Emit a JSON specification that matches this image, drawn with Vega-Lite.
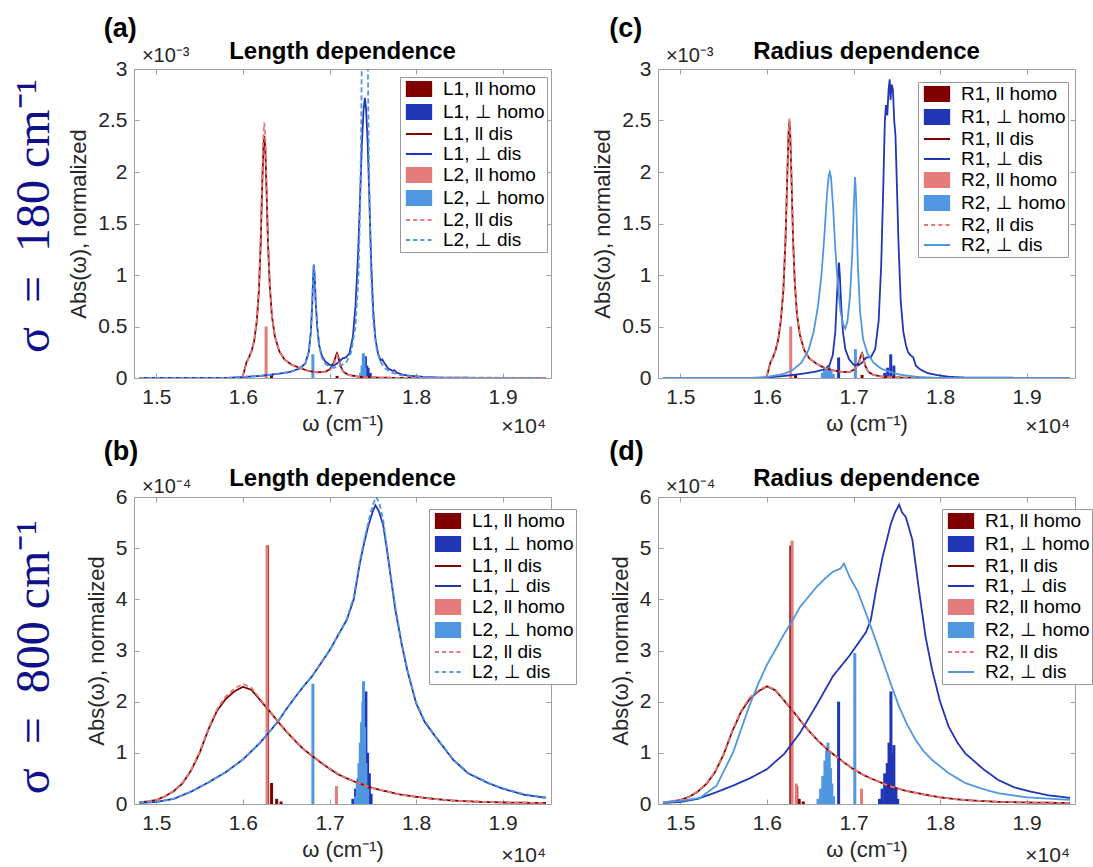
{
"$schema": "https://vega.github.io/schema/vega-lite/v6.json",
"padding": {"left": 10, "top": 14, "right": 0, "bottom": 0},
"columns": 2,
"spacing": {"row": -1, "column": 14},
"resolve": {"scale": {"x": "independent", "y": "independent", "color": "independent", "fill": "independent", "stroke": "independent", "shape": "independent", "strokeDash": "independent"}, "legend": {"color": "independent", "fill": "independent", "stroke": "independent", "shape": "independent", "strokeDash": "independent"}, "axis": {"x": "independent", "y": "independent"}},
"datasets": {
"a_homo": [
{"s":"L1, ll homo","w":16330,"v":0.04},{"s":"L1, ll homo","w":17087,"v":0.02},
{"s":"L1, ⊥ homo","w":17415,"v":0.21},{"s":"L1, ⊥ homo","w":17430,"v":0.12},{"s":"L1, ⊥ homo","w":17445,"v":0.1},{"s":"L1, ⊥ homo","w":17470,"v":0.05},
{"s":"L2, ll homo","w":16268,"v":0.5},
{"s":"L2, ⊥ homo","w":16808,"v":0.23},{"s":"L2, ⊥ homo","w":17360,"v":0.05},{"s":"L2, ⊥ homo","w":17375,"v":0.12},{"s":"L2, ⊥ homo","w":17390,"v":0.24},{"s":"L2, ⊥ homo","w":17400,"v":0.2},{"s":"L2, ⊥ homo","w":17410,"v":0.1}
],
"a_dis": [
{"s":"L1, ll dis","w":14800,"v":0},{"s":"L1, ll dis","w":15990,"v":0},{"s":"L1, ll dis","w":16010,"v":0.05},{"s":"L1, ll dis","w":16040,"v":0.15},{"s":"L1, ll dis","w":16070,"v":0.2},{"s":"L1, ll dis","w":16100,"v":0.26},{"s":"L1, ll dis","w":16130,"v":0.36},{"s":"L1, ll dis","w":16160,"v":0.55},{"s":"L1, ll dis","w":16185,"v":0.85},{"s":"L1, ll dis","w":16205,"v":1.3},{"s":"L1, ll dis","w":16222,"v":1.85},{"s":"L1, ll dis","w":16237,"v":2.25},{"s":"L1, ll dis","w":16247,"v":2.35},{"s":"L1, ll dis","w":16258,"v":2.25},{"s":"L1, ll dis","w":16272,"v":1.85},{"s":"L1, ll dis","w":16290,"v":1.3},{"s":"L1, ll dis","w":16310,"v":0.9},{"s":"L1, ll dis","w":16335,"v":0.6},{"s":"L1, ll dis","w":16370,"v":0.4},{"s":"L1, ll dis","w":16420,"v":0.26},{"s":"L1, ll dis","w":16480,"v":0.18},{"s":"L1, ll dis","w":16560,"v":0.13},{"s":"L1, ll dis","w":16650,"v":0.1},{"s":"L1, ll dis","w":16750,"v":0.07},{"s":"L1, ll dis","w":16850,"v":0.055},{"s":"L1, ll dis","w":16950,"v":0.06},{"s":"L1, ll dis","w":17010,"v":0.09},{"s":"L1, ll dis","w":17050,"v":0.15},{"s":"L1, ll dis","w":17075,"v":0.22},{"s":"L1, ll dis","w":17087,"v":0.24},{"s":"L1, ll dis","w":17100,"v":0.21},{"s":"L1, ll dis","w":17125,"v":0.12},{"s":"L1, ll dis","w":17160,"v":0.06},{"s":"L1, ll dis","w":17220,"v":0.03},{"s":"L1, ll dis","w":17350,"v":0.01},{"s":"L1, ll dis","w":17600,"v":0.003},{"s":"L1, ll dis","w":18000,"v":0},{"s":"L1, ll dis","w":19500,"v":0},
{"s":"L1, ⊥ dis","w":14800,"v":0},{"s":"L1, ⊥ dis","w":15800,"v":0},{"s":"L1, ⊥ dis","w":16000,"v":0.01},{"s":"L1, ⊥ dis","w":16200,"v":0.02},{"s":"L1, ⊥ dis","w":16400,"v":0.04},{"s":"L1, ⊥ dis","w":16550,"v":0.06},{"s":"L1, ⊥ dis","w":16650,"v":0.09},{"s":"L1, ⊥ dis","w":16720,"v":0.14},{"s":"L1, ⊥ dis","w":16760,"v":0.25},{"s":"L1, ⊥ dis","w":16785,"v":0.45},{"s":"L1, ⊥ dis","w":16800,"v":0.7},{"s":"L1, ⊥ dis","w":16810,"v":0.95},{"s":"L1, ⊥ dis","w":16818,"v":1.1},{"s":"L1, ⊥ dis","w":16828,"v":1.0},{"s":"L1, ⊥ dis","w":16840,"v":0.75},{"s":"L1, ⊥ dis","w":16858,"v":0.5},{"s":"L1, ⊥ dis","w":16880,"v":0.32},{"s":"L1, ⊥ dis","w":16910,"v":0.22},{"s":"L1, ⊥ dis","w":16950,"v":0.16},{"s":"L1, ⊥ dis","w":17000,"v":0.13},{"s":"L1, ⊥ dis","w":17050,"v":0.12},{"s":"L1, ⊥ dis","w":17100,"v":0.15},{"s":"L1, ⊥ dis","w":17150,"v":0.19},{"s":"L1, ⊥ dis","w":17190,"v":0.2},{"s":"L1, ⊥ dis","w":17230,"v":0.24},{"s":"L1, ⊥ dis","w":17270,"v":0.4},{"s":"L1, ⊥ dis","w":17300,"v":0.7},{"s":"L1, ⊥ dis","w":17330,"v":1.2},{"s":"L1, ⊥ dis","w":17355,"v":1.8},{"s":"L1, ⊥ dis","w":17375,"v":2.3},{"s":"L1, ⊥ dis","w":17393,"v":2.6},{"s":"L1, ⊥ dis","w":17408,"v":2.72},{"s":"L1, ⊥ dis","w":17422,"v":2.62},{"s":"L1, ⊥ dis","w":17440,"v":2.3},{"s":"L1, ⊥ dis","w":17460,"v":1.75},{"s":"L1, ⊥ dis","w":17480,"v":1.15},{"s":"L1, ⊥ dis","w":17505,"v":0.65},{"s":"L1, ⊥ dis","w":17530,"v":0.38},{"s":"L1, ⊥ dis","w":17560,"v":0.24},{"s":"L1, ⊥ dis","w":17590,"v":0.17},{"s":"L1, ⊥ dis","w":17610,"v":0.18},{"s":"L1, ⊥ dis","w":17630,"v":0.15},{"s":"L1, ⊥ dis","w":17680,"v":0.09},{"s":"L1, ⊥ dis","w":17730,"v":0.07},{"s":"L1, ⊥ dis","w":17750,"v":0.075},{"s":"L1, ⊥ dis","w":17780,"v":0.05},{"s":"L1, ⊥ dis","w":17850,"v":0.03},{"s":"L1, ⊥ dis","w":17950,"v":0.02},{"s":"L1, ⊥ dis","w":18100,"v":0.01},{"s":"L1, ⊥ dis","w":18300,"v":0.003},{"s":"L1, ⊥ dis","w":19500,"v":0},
{"s":"L2, ll dis","w":14800,"v":0},{"s":"L2, ll dis","w":15990,"v":0},{"s":"L2, ll dis","w":16010,"v":0.05},{"s":"L2, ll dis","w":16040,"v":0.14},{"s":"L2, ll dis","w":16070,"v":0.2},{"s":"L2, ll dis","w":16100,"v":0.26},{"s":"L2, ll dis","w":16130,"v":0.36},{"s":"L2, ll dis","w":16160,"v":0.56},{"s":"L2, ll dis","w":16185,"v":0.88},{"s":"L2, ll dis","w":16205,"v":1.38},{"s":"L2, ll dis","w":16222,"v":1.95},{"s":"L2, ll dis","w":16237,"v":2.38},{"s":"L2, ll dis","w":16247,"v":2.48},{"s":"L2, ll dis","w":16258,"v":2.36},{"s":"L2, ll dis","w":16272,"v":1.92},{"s":"L2, ll dis","w":16290,"v":1.33},{"s":"L2, ll dis","w":16310,"v":0.9},{"s":"L2, ll dis","w":16335,"v":0.6},{"s":"L2, ll dis","w":16370,"v":0.4},{"s":"L2, ll dis","w":16420,"v":0.26},{"s":"L2, ll dis","w":16480,"v":0.18},{"s":"L2, ll dis","w":16560,"v":0.13},{"s":"L2, ll dis","w":16650,"v":0.1},{"s":"L2, ll dis","w":16750,"v":0.07},{"s":"L2, ll dis","w":16850,"v":0.055},{"s":"L2, ll dis","w":16950,"v":0.06},{"s":"L2, ll dis","w":17010,"v":0.08},{"s":"L2, ll dis","w":17050,"v":0.13},{"s":"L2, ll dis","w":17075,"v":0.2},{"s":"L2, ll dis","w":17087,"v":0.22},{"s":"L2, ll dis","w":17100,"v":0.19},{"s":"L2, ll dis","w":17125,"v":0.11},{"s":"L2, ll dis","w":17160,"v":0.06},{"s":"L2, ll dis","w":17220,"v":0.03},{"s":"L2, ll dis","w":17350,"v":0.01},{"s":"L2, ll dis","w":17600,"v":0.003},{"s":"L2, ll dis","w":18000,"v":0},{"s":"L2, ll dis","w":19500,"v":0},
{"s":"L2, ⊥ dis","w":14800,"v":0},{"s":"L2, ⊥ dis","w":15800,"v":0},{"s":"L2, ⊥ dis","w":16000,"v":0.01},{"s":"L2, ⊥ dis","w":16200,"v":0.02},{"s":"L2, ⊥ dis","w":16400,"v":0.04},{"s":"L2, ⊥ dis","w":16550,"v":0.06},{"s":"L2, ⊥ dis","w":16650,"v":0.09},{"s":"L2, ⊥ dis","w":16720,"v":0.14},{"s":"L2, ⊥ dis","w":16760,"v":0.25},{"s":"L2, ⊥ dis","w":16785,"v":0.45},{"s":"L2, ⊥ dis","w":16800,"v":0.72},{"s":"L2, ⊥ dis","w":16810,"v":0.97},{"s":"L2, ⊥ dis","w":16818,"v":1.1},{"s":"L2, ⊥ dis","w":16828,"v":1.02},{"s":"L2, ⊥ dis","w":16840,"v":0.76},{"s":"L2, ⊥ dis","w":16858,"v":0.5},{"s":"L2, ⊥ dis","w":16880,"v":0.32},{"s":"L2, ⊥ dis","w":16910,"v":0.2},{"s":"L2, ⊥ dis","w":16950,"v":0.14},{"s":"L2, ⊥ dis","w":17000,"v":0.11},{"s":"L2, ⊥ dis","w":17050,"v":0.1},{"s":"L2, ⊥ dis","w":17100,"v":0.11},{"s":"L2, ⊥ dis","w":17150,"v":0.13},{"s":"L2, ⊥ dis","w":17200,"v":0.16},{"s":"L2, ⊥ dis","w":17250,"v":0.25},{"s":"L2, ⊥ dis","w":17300,"v":0.5},{"s":"L2, ⊥ dis","w":17335,"v":1.0},{"s":"L2, ⊥ dis","w":17355,"v":1.7},{"s":"L2, ⊥ dis","w":17368,"v":2.6},{"s":"L2, ⊥ dis","w":17375,"v":3.3},{"s":"L2, ⊥ dis","w":17440,"v":3.3},{"s":"L2, ⊥ dis","w":17448,"v":2.6},{"s":"L2, ⊥ dis","w":17462,"v":1.7},{"s":"L2, ⊥ dis","w":17480,"v":1.0},{"s":"L2, ⊥ dis","w":17505,"v":0.55},{"s":"L2, ⊥ dis","w":17540,"v":0.3},{"s":"L2, ⊥ dis","w":17580,"v":0.17},{"s":"L2, ⊥ dis","w":17630,"v":0.1},{"s":"L2, ⊥ dis","w":17700,"v":0.06},{"s":"L2, ⊥ dis","w":17800,"v":0.03},{"s":"L2, ⊥ dis","w":17950,"v":0.015},{"s":"L2, ⊥ dis","w":18200,"v":0.005},{"s":"L2, ⊥ dis","w":19500,"v":0}
],
"c_homo": [
{"s":"R1, ll homo","w":16330,"v":0.03},{"s":"R1, ll homo","w":17099,"v":0.03},
{"s":"R1, ⊥ homo","w":16828,"v":0.2},{"s":"R1, ⊥ homo","w":17360,"v":0.05},{"s":"R1, ⊥ homo","w":17394,"v":0.1},{"s":"R1, ⊥ homo","w":17430,"v":0.23},{"s":"R1, ⊥ homo","w":17466,"v":0.12},
{"s":"R2, ll homo","w":16275,"v":0.5},
{"s":"R2, ⊥ homo","w":16640,"v":0.05},{"s":"R2, ⊥ homo","w":16665,"v":0.08},{"s":"R2, ⊥ homo","w":16690,"v":0.1},{"s":"R2, ⊥ homo","w":16715,"v":0.12},{"s":"R2, ⊥ homo","w":16740,"v":0.08},{"s":"R2, ⊥ homo","w":16765,"v":0.04},{"s":"R2, ⊥ homo","w":17022,"v":0.28}
],
"c_dis": [
{"s":"R1, ll dis","w":14800,"v":0},{"s":"R1, ll dis","w":15990,"v":0},{"s":"R1, ll dis","w":16010,"v":0.05},{"s":"R1, ll dis","w":16040,"v":0.15},{"s":"R1, ll dis","w":16070,"v":0.2},{"s":"R1, ll dis","w":16100,"v":0.27},{"s":"R1, ll dis","w":16130,"v":0.37},{"s":"R1, ll dis","w":16160,"v":0.55},{"s":"R1, ll dis","w":16190,"v":0.85},{"s":"R1, ll dis","w":16215,"v":1.35},{"s":"R1, ll dis","w":16235,"v":1.95},{"s":"R1, ll dis","w":16250,"v":2.38},{"s":"R1, ll dis","w":16260,"v":2.5},{"s":"R1, ll dis","w":16270,"v":2.35},{"s":"R1, ll dis","w":16285,"v":1.9},{"s":"R1, ll dis","w":16302,"v":1.35},{"s":"R1, ll dis","w":16322,"v":0.92},{"s":"R1, ll dis","w":16347,"v":0.62},{"s":"R1, ll dis","w":16380,"v":0.42},{"s":"R1, ll dis","w":16430,"v":0.27},{"s":"R1, ll dis","w":16490,"v":0.19},{"s":"R1, ll dis","w":16570,"v":0.14},{"s":"R1, ll dis","w":16660,"v":0.1},{"s":"R1, ll dis","w":16760,"v":0.075},{"s":"R1, ll dis","w":16860,"v":0.06},{"s":"R1, ll dis","w":16960,"v":0.06},{"s":"R1, ll dis","w":17020,"v":0.09},{"s":"R1, ll dis","w":17060,"v":0.15},{"s":"R1, ll dis","w":17087,"v":0.22},{"s":"R1, ll dis","w":17099,"v":0.24},{"s":"R1, ll dis","w":17112,"v":0.21},{"s":"R1, ll dis","w":17135,"v":0.12},{"s":"R1, ll dis","w":17170,"v":0.06},{"s":"R1, ll dis","w":17230,"v":0.03},{"s":"R1, ll dis","w":17350,"v":0.01},{"s":"R1, ll dis","w":17600,"v":0.003},{"s":"R1, ll dis","w":18000,"v":0},{"s":"R1, ll dis","w":19500,"v":0},
{"s":"R1, ⊥ dis","w":14800,"v":0},{"s":"R1, ⊥ dis","w":15900,"v":0},{"s":"R1, ⊥ dis","w":16000,"v":0.005},{"s":"R1, ⊥ dis","w":16200,"v":0.02},{"s":"R1, ⊥ dis","w":16400,"v":0.04},{"s":"R1, ⊥ dis","w":16550,"v":0.06},{"s":"R1, ⊥ dis","w":16650,"v":0.08},{"s":"R1, ⊥ dis","w":16720,"v":0.12},{"s":"R1, ⊥ dis","w":16760,"v":0.22},{"s":"R1, ⊥ dis","w":16790,"v":0.45},{"s":"R1, ⊥ dis","w":16812,"v":0.85},{"s":"R1, ⊥ dis","w":16825,"v":1.05},{"s":"R1, ⊥ dis","w":16832,"v":1.12},{"s":"R1, ⊥ dis","w":16842,"v":1.0},{"s":"R1, ⊥ dis","w":16858,"v":0.7},{"s":"R1, ⊥ dis","w":16878,"v":0.45},{"s":"R1, ⊥ dis","w":16905,"v":0.28},{"s":"R1, ⊥ dis","w":16950,"v":0.18},{"s":"R1, ⊥ dis","w":17000,"v":0.13},{"s":"R1, ⊥ dis","w":17050,"v":0.12},{"s":"R1, ⊥ dis","w":17100,"v":0.15},{"s":"R1, ⊥ dis","w":17150,"v":0.2},{"s":"R1, ⊥ dis","w":17200,"v":0.2},{"s":"R1, ⊥ dis","w":17250,"v":0.28},{"s":"R1, ⊥ dis","w":17290,"v":0.55},{"s":"R1, ⊥ dis","w":17320,"v":1.1},{"s":"R1, ⊥ dis","w":17345,"v":1.9},{"s":"R1, ⊥ dis","w":17362,"v":2.5},{"s":"R1, ⊥ dis","w":17375,"v":2.65},{"s":"R1, ⊥ dis","w":17390,"v":2.55},{"s":"R1, ⊥ dis","w":17405,"v":2.8},{"s":"R1, ⊥ dis","w":17418,"v":2.9},{"s":"R1, ⊥ dis","w":17428,"v":2.7},{"s":"R1, ⊥ dis","w":17440,"v":2.85},{"s":"R1, ⊥ dis","w":17455,"v":2.8},{"s":"R1, ⊥ dis","w":17470,"v":2.5},{"s":"R1, ⊥ dis","w":17485,"v":2.35},{"s":"R1, ⊥ dis","w":17500,"v":1.9},{"s":"R1, ⊥ dis","w":17520,"v":1.3},{"s":"R1, ⊥ dis","w":17545,"v":0.75},{"s":"R1, ⊥ dis","w":17575,"v":0.45},{"s":"R1, ⊥ dis","w":17605,"v":0.32},{"s":"R1, ⊥ dis","w":17630,"v":0.25},{"s":"R1, ⊥ dis","w":17660,"v":0.22},{"s":"R1, ⊥ dis","w":17690,"v":0.2},{"s":"R1, ⊥ dis","w":17720,"v":0.12},{"s":"R1, ⊥ dis","w":17760,"v":0.09},{"s":"R1, ⊥ dis","w":17800,"v":0.07},{"s":"R1, ⊥ dis","w":17850,"v":0.05},{"s":"R1, ⊥ dis","w":17950,"v":0.03},{"s":"R1, ⊥ dis","w":18100,"v":0.012},{"s":"R1, ⊥ dis","w":18300,"v":0.004},{"s":"R1, ⊥ dis","w":19500,"v":0},
{"s":"R2, ll dis","w":14800,"v":0},{"s":"R2, ll dis","w":15990,"v":0},{"s":"R2, ll dis","w":16010,"v":0.05},{"s":"R2, ll dis","w":16040,"v":0.14},{"s":"R2, ll dis","w":16070,"v":0.2},{"s":"R2, ll dis","w":16100,"v":0.27},{"s":"R2, ll dis","w":16130,"v":0.37},{"s":"R2, ll dis","w":16160,"v":0.56},{"s":"R2, ll dis","w":16190,"v":0.87},{"s":"R2, ll dis","w":16215,"v":1.38},{"s":"R2, ll dis","w":16235,"v":1.98},{"s":"R2, ll dis","w":16250,"v":2.4},{"s":"R2, ll dis","w":16260,"v":2.52},{"s":"R2, ll dis","w":16270,"v":2.37},{"s":"R2, ll dis","w":16285,"v":1.92},{"s":"R2, ll dis","w":16302,"v":1.36},{"s":"R2, ll dis","w":16322,"v":0.93},{"s":"R2, ll dis","w":16347,"v":0.62},{"s":"R2, ll dis","w":16380,"v":0.42},{"s":"R2, ll dis","w":16430,"v":0.27},{"s":"R2, ll dis","w":16490,"v":0.19},{"s":"R2, ll dis","w":16570,"v":0.14},{"s":"R2, ll dis","w":16660,"v":0.1},{"s":"R2, ll dis","w":16760,"v":0.075},{"s":"R2, ll dis","w":16860,"v":0.06},{"s":"R2, ll dis","w":16960,"v":0.06},{"s":"R2, ll dis","w":17020,"v":0.09},{"s":"R2, ll dis","w":17060,"v":0.14},{"s":"R2, ll dis","w":17087,"v":0.21},{"s":"R2, ll dis","w":17099,"v":0.23},{"s":"R2, ll dis","w":17112,"v":0.2},{"s":"R2, ll dis","w":17135,"v":0.12},{"s":"R2, ll dis","w":17170,"v":0.06},{"s":"R2, ll dis","w":17230,"v":0.03},{"s":"R2, ll dis","w":17350,"v":0.01},{"s":"R2, ll dis","w":17600,"v":0.003},{"s":"R2, ll dis","w":18000,"v":0},{"s":"R2, ll dis","w":19500,"v":0},
{"s":"R2, ⊥ dis","w":14800,"v":0},{"s":"R2, ⊥ dis","w":15800,"v":0},{"s":"R2, ⊥ dis","w":16000,"v":0.01},{"s":"R2, ⊥ dis","w":16200,"v":0.04},{"s":"R2, ⊥ dis","w":16300,"v":0.08},{"s":"R2, ⊥ dis","w":16400,"v":0.15},{"s":"R2, ⊥ dis","w":16480,"v":0.27},{"s":"R2, ⊥ dis","w":16540,"v":0.45},{"s":"R2, ⊥ dis","w":16590,"v":0.7},{"s":"R2, ⊥ dis","w":16630,"v":1.0},{"s":"R2, ⊥ dis","w":16665,"v":1.4},{"s":"R2, ⊥ dis","w":16695,"v":1.8},{"s":"R2, ⊥ dis","w":16715,"v":1.97},{"s":"R2, ⊥ dis","w":16725,"v":2.0},{"s":"R2, ⊥ dis","w":16740,"v":1.95},{"s":"R2, ⊥ dis","w":16765,"v":1.65},{"s":"R2, ⊥ dis","w":16790,"v":1.25},{"s":"R2, ⊥ dis","w":16820,"v":0.9},{"s":"R2, ⊥ dis","w":16850,"v":0.65},{"s":"R2, ⊥ dis","w":16880,"v":0.52},{"s":"R2, ⊥ dis","w":16905,"v":0.48},{"s":"R2, ⊥ dis","w":16930,"v":0.55},{"s":"R2, ⊥ dis","w":16960,"v":0.8},{"s":"R2, ⊥ dis","w":16985,"v":1.2},{"s":"R2, ⊥ dis","w":17005,"v":1.7},{"s":"R2, ⊥ dis","w":17018,"v":1.95},{"s":"R2, ⊥ dis","w":17030,"v":1.75},{"s":"R2, ⊥ dis","w":17050,"v":1.1},{"s":"R2, ⊥ dis","w":17075,"v":0.65},{"s":"R2, ⊥ dis","w":17110,"v":0.38},{"s":"R2, ⊥ dis","w":17160,"v":0.24},{"s":"R2, ⊥ dis","w":17230,"v":0.15},{"s":"R2, ⊥ dis","w":17320,"v":0.09},{"s":"R2, ⊥ dis","w":17420,"v":0.06},{"s":"R2, ⊥ dis","w":17550,"v":0.03},{"s":"R2, ⊥ dis","w":17750,"v":0.01},{"s":"R2, ⊥ dis","w":18000,"v":0},{"s":"R2, ⊥ dis","w":19500,"v":0}
],
"b_homo": [
{"s":"L1, ll homo","w":16285,"v":5.05},{"s":"L1, ll homo","w":16331,"v":0.41},{"s":"L1, ll homo","w":16390,"v":0.1},{"s":"L1, ll homo","w":16440,"v":0.05},
{"s":"L1, ⊥ homo","w":17270,"v":0.1},{"s":"L1, ⊥ homo","w":17300,"v":0.3},{"s":"L1, ⊥ homo","w":17330,"v":0.5},{"s":"L1, ⊥ homo","w":17360,"v":0.6},{"s":"L1, ⊥ homo","w":17390,"v":0.9},{"s":"L1, ⊥ homo","w":17420,"v":2.2},{"s":"L1, ⊥ homo","w":17440,"v":1.0},{"s":"L1, ⊥ homo","w":17460,"v":0.6},{"s":"L1, ⊥ homo","w":17480,"v":0.2},
{"s":"L2, ll homo","w":16279,"v":5.05},{"s":"L2, ll homo","w":17080,"v":0.35},
{"s":"L2, ⊥ homo","w":16808,"v":2.35},{"s":"L2, ⊥ homo","w":17300,"v":0.15},{"s":"L2, ⊥ homo","w":17320,"v":0.4},{"s":"L2, ⊥ homo","w":17340,"v":0.8},{"s":"L2, ⊥ homo","w":17355,"v":1.2},{"s":"L2, ⊥ homo","w":17370,"v":1.6},{"s":"L2, ⊥ homo","w":17385,"v":2.0},{"s":"L2, ⊥ homo","w":17393,"v":2.4},{"s":"L2, ⊥ homo","w":17405,"v":1.5},{"s":"L2, ⊥ homo","w":17420,"v":0.8},{"s":"L2, ⊥ homo","w":17440,"v":0.3}
],
"b_dis": [
{"s":"L1, ll dis","w":14800,"v":0.03},{"s":"L1, ll dis","w":14900,"v":0.05},{"s":"L1, ll dis","w":15000,"v":0.08},{"s":"L1, ll dis","w":15100,"v":0.15},{"s":"L1, ll dis","w":15200,"v":0.25},{"s":"L1, ll dis","w":15300,"v":0.4},{"s":"L1, ll dis","w":15400,"v":0.65},{"s":"L1, ll dis","w":15500,"v":1.0},{"s":"L1, ll dis","w":15600,"v":1.45},{"s":"L1, ll dis","w":15700,"v":1.82},{"s":"L1, ll dis","w":15800,"v":2.05},{"s":"L1, ll dis","w":15900,"v":2.2},{"s":"L1, ll dis","w":16000,"v":2.29},{"s":"L1, ll dis","w":16100,"v":2.23},{"s":"L1, ll dis","w":16200,"v":2.03},{"s":"L1, ll dis","w":16300,"v":1.83},{"s":"L1, ll dis","w":16400,"v":1.62},{"s":"L1, ll dis","w":16500,"v":1.42},{"s":"L1, ll dis","w":16600,"v":1.24},{"s":"L1, ll dis","w":16700,"v":1.07},{"s":"L1, ll dis","w":16800,"v":0.94},{"s":"L1, ll dis","w":16900,"v":0.81},{"s":"L1, ll dis","w":17000,"v":0.69},{"s":"L1, ll dis","w":17100,"v":0.58},{"s":"L1, ll dis","w":17200,"v":0.5},{"s":"L1, ll dis","w":17300,"v":0.43},{"s":"L1, ll dis","w":17400,"v":0.37},{"s":"L1, ll dis","w":17500,"v":0.31},{"s":"L1, ll dis","w":17600,"v":0.27},{"s":"L1, ll dis","w":17800,"v":0.19},{"s":"L1, ll dis","w":18000,"v":0.14},{"s":"L1, ll dis","w":18200,"v":0.1},{"s":"L1, ll dis","w":18400,"v":0.07},{"s":"L1, ll dis","w":18700,"v":0.045},{"s":"L1, ll dis","w":19000,"v":0.03},{"s":"L1, ll dis","w":19500,"v":0.02},
{"s":"L1, ⊥ dis","w":14800,"v":0.02},{"s":"L1, ⊥ dis","w":15000,"v":0.04},{"s":"L1, ⊥ dis","w":15200,"v":0.1},{"s":"L1, ⊥ dis","w":15400,"v":0.24},{"s":"L1, ⊥ dis","w":15600,"v":0.42},{"s":"L1, ⊥ dis","w":15800,"v":0.62},{"s":"L1, ⊥ dis","w":16000,"v":0.87},{"s":"L1, ⊥ dis","w":16200,"v":1.2},{"s":"L1, ⊥ dis","w":16300,"v":1.4},{"s":"L1, ⊥ dis","w":16400,"v":1.6},{"s":"L1, ⊥ dis","w":16500,"v":1.85},{"s":"L1, ⊥ dis","w":16600,"v":2.08},{"s":"L1, ⊥ dis","w":16700,"v":2.3},{"s":"L1, ⊥ dis","w":16800,"v":2.5},{"s":"L1, ⊥ dis","w":16900,"v":2.75},{"s":"L1, ⊥ dis","w":17000,"v":3.0},{"s":"L1, ⊥ dis","w":17100,"v":3.3},{"s":"L1, ⊥ dis","w":17200,"v":3.6},{"s":"L1, ⊥ dis","w":17280,"v":4.0},{"s":"L1, ⊥ dis","w":17350,"v":4.7},{"s":"L1, ⊥ dis","w":17400,"v":5.1},{"s":"L1, ⊥ dis","w":17450,"v":5.45},{"s":"L1, ⊥ dis","w":17500,"v":5.72},{"s":"L1, ⊥ dis","w":17530,"v":5.84},{"s":"L1, ⊥ dis","w":17570,"v":5.72},{"s":"L1, ⊥ dis","w":17620,"v":5.45},{"s":"L1, ⊥ dis","w":17660,"v":5.0},{"s":"L1, ⊥ dis","w":17710,"v":4.4},{"s":"L1, ⊥ dis","w":17760,"v":3.8},{"s":"L1, ⊥ dis","w":17830,"v":3.15},{"s":"L1, ⊥ dis","w":17900,"v":2.6},{"s":"L1, ⊥ dis","w":18000,"v":1.97},{"s":"L1, ⊥ dis","w":18100,"v":1.6},{"s":"L1, ⊥ dis","w":18230,"v":1.3},{"s":"L1, ⊥ dis","w":18430,"v":0.86},{"s":"L1, ⊥ dis","w":18600,"v":0.6},{"s":"L1, ⊥ dis","w":18830,"v":0.41},{"s":"L1, ⊥ dis","w":19000,"v":0.3},{"s":"L1, ⊥ dis","w":19250,"v":0.18},{"s":"L1, ⊥ dis","w":19500,"v":0.12},
{"s":"L2, ll dis","w":14800,"v":0.03},{"s":"L2, ll dis","w":14900,"v":0.05},{"s":"L2, ll dis","w":15000,"v":0.08},{"s":"L2, ll dis","w":15100,"v":0.15},{"s":"L2, ll dis","w":15200,"v":0.26},{"s":"L2, ll dis","w":15300,"v":0.41},{"s":"L2, ll dis","w":15400,"v":0.66},{"s":"L2, ll dis","w":15500,"v":1.02},{"s":"L2, ll dis","w":15600,"v":1.47},{"s":"L2, ll dis","w":15700,"v":1.85},{"s":"L2, ll dis","w":15800,"v":2.1},{"s":"L2, ll dis","w":15900,"v":2.25},{"s":"L2, ll dis","w":16000,"v":2.35},{"s":"L2, ll dis","w":16100,"v":2.27},{"s":"L2, ll dis","w":16200,"v":2.05},{"s":"L2, ll dis","w":16300,"v":1.84},{"s":"L2, ll dis","w":16400,"v":1.63},{"s":"L2, ll dis","w":16500,"v":1.43},{"s":"L2, ll dis","w":16600,"v":1.25},{"s":"L2, ll dis","w":16700,"v":1.08},{"s":"L2, ll dis","w":16800,"v":0.95},{"s":"L2, ll dis","w":16900,"v":0.82},{"s":"L2, ll dis","w":17000,"v":0.7},{"s":"L2, ll dis","w":17100,"v":0.59},{"s":"L2, ll dis","w":17200,"v":0.5},{"s":"L2, ll dis","w":17300,"v":0.43},{"s":"L2, ll dis","w":17400,"v":0.37},{"s":"L2, ll dis","w":17500,"v":0.31},{"s":"L2, ll dis","w":17600,"v":0.27},{"s":"L2, ll dis","w":17800,"v":0.19},{"s":"L2, ll dis","w":18000,"v":0.14},{"s":"L2, ll dis","w":18200,"v":0.1},{"s":"L2, ll dis","w":18400,"v":0.07},{"s":"L2, ll dis","w":18700,"v":0.045},{"s":"L2, ll dis","w":19000,"v":0.03},{"s":"L2, ll dis","w":19500,"v":0.02},
{"s":"L2, ⊥ dis","w":14800,"v":0.02},{"s":"L2, ⊥ dis","w":15000,"v":0.04},{"s":"L2, ⊥ dis","w":15200,"v":0.1},{"s":"L2, ⊥ dis","w":15400,"v":0.24},{"s":"L2, ⊥ dis","w":15600,"v":0.42},{"s":"L2, ⊥ dis","w":15800,"v":0.62},{"s":"L2, ⊥ dis","w":16000,"v":0.87},{"s":"L2, ⊥ dis","w":16200,"v":1.2},{"s":"L2, ⊥ dis","w":16300,"v":1.4},{"s":"L2, ⊥ dis","w":16400,"v":1.6},{"s":"L2, ⊥ dis","w":16500,"v":1.85},{"s":"L2, ⊥ dis","w":16600,"v":2.08},{"s":"L2, ⊥ dis","w":16700,"v":2.3},{"s":"L2, ⊥ dis","w":16800,"v":2.5},{"s":"L2, ⊥ dis","w":16900,"v":2.75},{"s":"L2, ⊥ dis","w":17000,"v":3.0},{"s":"L2, ⊥ dis","w":17100,"v":3.3},{"s":"L2, ⊥ dis","w":17200,"v":3.62},{"s":"L2, ⊥ dis","w":17280,"v":4.05},{"s":"L2, ⊥ dis","w":17350,"v":4.75},{"s":"L2, ⊥ dis","w":17400,"v":5.15},{"s":"L2, ⊥ dis","w":17450,"v":5.52},{"s":"L2, ⊥ dis","w":17500,"v":5.85},{"s":"L2, ⊥ dis","w":17540,"v":6.0},{"s":"L2, ⊥ dis","w":17575,"v":5.88},{"s":"L2, ⊥ dis","w":17620,"v":5.55},{"s":"L2, ⊥ dis","w":17660,"v":5.05},{"s":"L2, ⊥ dis","w":17710,"v":4.45},{"s":"L2, ⊥ dis","w":17760,"v":3.85},{"s":"L2, ⊥ dis","w":17830,"v":3.18},{"s":"L2, ⊥ dis","w":17900,"v":2.62},{"s":"L2, ⊥ dis","w":18000,"v":1.99},{"s":"L2, ⊥ dis","w":18100,"v":1.62},{"s":"L2, ⊥ dis","w":18230,"v":1.31},{"s":"L2, ⊥ dis","w":18430,"v":0.87},{"s":"L2, ⊥ dis","w":18600,"v":0.61},{"s":"L2, ⊥ dis","w":18830,"v":0.42},{"s":"L2, ⊥ dis","w":19000,"v":0.31},{"s":"L2, ⊥ dis","w":19250,"v":0.19},{"s":"L2, ⊥ dis","w":19500,"v":0.13}
],
"d_homo": [
{"s":"R1, ll homo","w":16276,"v":5.05},{"s":"R1, ll homo","w":16345,"v":0.35},{"s":"R1, ll homo","w":16373,"v":0.1},{"s":"R1, ll homo","w":16420,"v":0.05},
{"s":"R1, ⊥ homo","w":16828,"v":2.0},{"s":"R1, ⊥ homo","w":17300,"v":0.1},{"s":"R1, ⊥ homo","w":17330,"v":0.3},{"s":"R1, ⊥ homo","w":17360,"v":0.6},{"s":"R1, ⊥ homo","w":17390,"v":0.8},{"s":"R1, ⊥ homo","w":17410,"v":1.2},{"s":"R1, ⊥ homo","w":17432,"v":2.2},{"s":"R1, ⊥ homo","w":17450,"v":1.0},{"s":"R1, ⊥ homo","w":17466,"v":1.15},{"s":"R1, ⊥ homo","w":17490,"v":0.3},{"s":"R1, ⊥ homo","w":17510,"v":0.1},
{"s":"R2, ll homo","w":16291,"v":5.15},{"s":"R2, ll homo","w":16339,"v":0.4},{"s":"R2, ll homo","w":17093,"v":0.3},
{"s":"R2, ⊥ homo","w":16590,"v":0.1},{"s":"R2, ⊥ homo","w":16620,"v":0.3},{"s":"R2, ⊥ homo","w":16645,"v":0.55},{"s":"R2, ⊥ homo","w":16670,"v":0.85},{"s":"R2, ⊥ homo","w":16690,"v":1.05},{"s":"R2, ⊥ homo","w":16705,"v":1.2},{"s":"R2, ⊥ homo","w":16720,"v":1.0},{"s":"R2, ⊥ homo","w":16735,"v":0.7},{"s":"R2, ⊥ homo","w":16750,"v":0.4},{"s":"R2, ⊥ homo","w":16770,"v":0.15},{"s":"R2, ⊥ homo","w":17015,"v":2.95}
],
"d_dis": [
{"s":"R1, ll dis","w":14800,"v":0.03},{"s":"R1, ll dis","w":14900,"v":0.05},{"s":"R1, ll dis","w":15000,"v":0.08},{"s":"R1, ll dis","w":15100,"v":0.14},{"s":"R1, ll dis","w":15200,"v":0.24},{"s":"R1, ll dis","w":15300,"v":0.39},{"s":"R1, ll dis","w":15400,"v":0.62},{"s":"R1, ll dis","w":15500,"v":0.97},{"s":"R1, ll dis","w":15600,"v":1.42},{"s":"R1, ll dis","w":15700,"v":1.8},{"s":"R1, ll dis","w":15800,"v":2.05},{"s":"R1, ll dis","w":15900,"v":2.2},{"s":"R1, ll dis","w":16000,"v":2.3},{"s":"R1, ll dis","w":16100,"v":2.22},{"s":"R1, ll dis","w":16200,"v":2.02},{"s":"R1, ll dis","w":16300,"v":1.82},{"s":"R1, ll dis","w":16400,"v":1.6},{"s":"R1, ll dis","w":16500,"v":1.4},{"s":"R1, ll dis","w":16600,"v":1.22},{"s":"R1, ll dis","w":16700,"v":1.06},{"s":"R1, ll dis","w":16800,"v":0.93},{"s":"R1, ll dis","w":16900,"v":0.8},{"s":"R1, ll dis","w":17000,"v":0.68},{"s":"R1, ll dis","w":17100,"v":0.58},{"s":"R1, ll dis","w":17200,"v":0.5},{"s":"R1, ll dis","w":17300,"v":0.43},{"s":"R1, ll dis","w":17400,"v":0.36},{"s":"R1, ll dis","w":17500,"v":0.31},{"s":"R1, ll dis","w":17600,"v":0.26},{"s":"R1, ll dis","w":17800,"v":0.19},{"s":"R1, ll dis","w":18000,"v":0.13},{"s":"R1, ll dis","w":18200,"v":0.09},{"s":"R1, ll dis","w":18400,"v":0.065},{"s":"R1, ll dis","w":18700,"v":0.04},{"s":"R1, ll dis","w":19000,"v":0.03},{"s":"R1, ll dis","w":19500,"v":0.02},
{"s":"R1, ⊥ dis","w":14800,"v":0.02},{"s":"R1, ⊥ dis","w":15000,"v":0.04},{"s":"R1, ⊥ dis","w":15200,"v":0.1},{"s":"R1, ⊥ dis","w":15400,"v":0.22},{"s":"R1, ⊥ dis","w":15610,"v":0.36},{"s":"R1, ⊥ dis","w":15800,"v":0.5},{"s":"R1, ⊥ dis","w":16000,"v":0.68},{"s":"R1, ⊥ dis","w":16200,"v":0.98},{"s":"R1, ⊥ dis","w":16382,"v":1.39},{"s":"R1, ⊥ dis","w":16572,"v":1.93},{"s":"R1, ⊥ dis","w":16763,"v":2.5},{"s":"R1, ⊥ dis","w":16954,"v":2.9},{"s":"R1, ⊥ dis","w":17145,"v":3.36},{"s":"R1, ⊥ dis","w":17200,"v":3.6},{"s":"R1, ⊥ dis","w":17260,"v":4.18},{"s":"R1, ⊥ dis","w":17336,"v":4.83},{"s":"R1, ⊥ dis","w":17432,"v":5.48},{"s":"R1, ⊥ dis","w":17480,"v":5.7},{"s":"R1, ⊥ dis","w":17527,"v":5.85},{"s":"R1, ⊥ dis","w":17560,"v":5.7},{"s":"R1, ⊥ dis","w":17603,"v":5.61},{"s":"R1, ⊥ dis","w":17640,"v":5.4},{"s":"R1, ⊥ dis","w":17680,"v":5.16},{"s":"R1, ⊥ dis","w":17756,"v":4.18},{"s":"R1, ⊥ dis","w":17832,"v":3.27},{"s":"R1, ⊥ dis","w":17908,"v":2.62},{"s":"R1, ⊥ dis","w":18000,"v":2.0},{"s":"R1, ⊥ dis","w":18099,"v":1.51},{"s":"R1, ⊥ dis","w":18200,"v":1.2},{"s":"R1, ⊥ dis","w":18290,"v":0.99},{"s":"R1, ⊥ dis","w":18500,"v":0.68},{"s":"R1, ⊥ dis","w":18671,"v":0.47},{"s":"R1, ⊥ dis","w":18850,"v":0.33},{"s":"R1, ⊥ dis","w":19053,"v":0.24},{"s":"R1, ⊥ dis","w":19250,"v":0.17},{"s":"R1, ⊥ dis","w":19500,"v":0.12},
{"s":"R2, ll dis","w":14800,"v":0.03},{"s":"R2, ll dis","w":14900,"v":0.05},{"s":"R2, ll dis","w":15000,"v":0.08},{"s":"R2, ll dis","w":15100,"v":0.14},{"s":"R2, ll dis","w":15200,"v":0.25},{"s":"R2, ll dis","w":15300,"v":0.4},{"s":"R2, ll dis","w":15400,"v":0.63},{"s":"R2, ll dis","w":15500,"v":0.99},{"s":"R2, ll dis","w":15600,"v":1.44},{"s":"R2, ll dis","w":15700,"v":1.82},{"s":"R2, ll dis","w":15800,"v":2.08},{"s":"R2, ll dis","w":15900,"v":2.22},{"s":"R2, ll dis","w":16000,"v":2.31},{"s":"R2, ll dis","w":16100,"v":2.23},{"s":"R2, ll dis","w":16200,"v":2.03},{"s":"R2, ll dis","w":16300,"v":1.83},{"s":"R2, ll dis","w":16400,"v":1.61},{"s":"R2, ll dis","w":16500,"v":1.41},{"s":"R2, ll dis","w":16600,"v":1.23},{"s":"R2, ll dis","w":16700,"v":1.07},{"s":"R2, ll dis","w":16800,"v":0.93},{"s":"R2, ll dis","w":16900,"v":0.8},{"s":"R2, ll dis","w":17000,"v":0.68},{"s":"R2, ll dis","w":17100,"v":0.58},{"s":"R2, ll dis","w":17200,"v":0.5},{"s":"R2, ll dis","w":17300,"v":0.43},{"s":"R2, ll dis","w":17400,"v":0.36},{"s":"R2, ll dis","w":17500,"v":0.31},{"s":"R2, ll dis","w":17600,"v":0.26},{"s":"R2, ll dis","w":17800,"v":0.19},{"s":"R2, ll dis","w":18000,"v":0.13},{"s":"R2, ll dis","w":18200,"v":0.09},{"s":"R2, ll dis","w":18400,"v":0.065},{"s":"R2, ll dis","w":18700,"v":0.04},{"s":"R2, ll dis","w":19000,"v":0.03},{"s":"R2, ll dis","w":19500,"v":0.02},
{"s":"R2, ⊥ dis","w":14800,"v":0.03},{"s":"R2, ⊥ dis","w":15000,"v":0.06},{"s":"R2, ⊥ dis","w":15228,"v":0.12},{"s":"R2, ⊥ dis","w":15419,"v":0.36},{"s":"R2, ⊥ dis","w":15610,"v":1.01},{"s":"R2, ⊥ dis","w":15700,"v":1.45},{"s":"R2, ⊥ dis","w":15800,"v":1.93},{"s":"R2, ⊥ dis","w":15900,"v":2.35},{"s":"R2, ⊥ dis","w":16000,"v":2.72},{"s":"R2, ⊥ dis","w":16100,"v":3.02},{"s":"R2, ⊥ dis","w":16191,"v":3.3},{"s":"R2, ⊥ dis","w":16300,"v":3.6},{"s":"R2, ⊥ dis","w":16382,"v":3.85},{"s":"R2, ⊥ dis","w":16480,"v":4.05},{"s":"R2, ⊥ dis","w":16572,"v":4.24},{"s":"R2, ⊥ dis","w":16680,"v":4.42},{"s":"R2, ⊥ dis","w":16763,"v":4.54},{"s":"R2, ⊥ dis","w":16850,"v":4.6},{"s":"R2, ⊥ dis","w":16890,"v":4.7},{"s":"R2, ⊥ dis","w":16954,"v":4.44},{"s":"R2, ⊥ dis","w":17050,"v":4.15},{"s":"R2, ⊥ dis","w":17145,"v":3.72},{"s":"R2, ⊥ dis","w":17240,"v":3.28},{"s":"R2, ⊥ dis","w":17336,"v":2.81},{"s":"R2, ⊥ dis","w":17430,"v":2.35},{"s":"R2, ⊥ dis","w":17527,"v":1.9},{"s":"R2, ⊥ dis","w":17620,"v":1.55},{"s":"R2, ⊥ dis","w":17718,"v":1.25},{"s":"R2, ⊥ dis","w":17810,"v":1.03},{"s":"R2, ⊥ dis","w":17908,"v":0.86},{"s":"R2, ⊥ dis","w":18100,"v":0.6},{"s":"R2, ⊥ dis","w":18290,"v":0.41},{"s":"R2, ⊥ dis","w":18480,"v":0.3},{"s":"R2, ⊥ dis","w":18671,"v":0.21},{"s":"R2, ⊥ dis","w":19000,"v":0.13},{"s":"R2, ⊥ dis","w":19500,"v":0.08}
]
},
"concat": [
{
"width": 417, "height": 309,
"layer": [
{"data": {"name": "a_homo"}, "mark": {"type": "bar", "width": 3, "orient": "vertical"},
 "encoding": {
  "x": {"field": "w", "type": "quantitative", "scale": {"domain": [14800, 19500], "nice": false, "zero": false}, "axis": {"orient": "top", "labels": false, "title": null, "values": [15000,16000,17000,18000,19000]}},
  "y": {"field": "v", "type": "quantitative", "stack": null, "scale": {"domain": [0, 3], "nice": false, "zero": false}, "axis": {"orient": "right", "labels": false, "title": null, "values": [0,0.5,1,1.5,2,2.5,3]}},
  "color": {"field": "s", "type": "nominal", "scale": {"domain": ["L1, ll dis","L1, ⊥ dis","L2, ll dis","L2, ⊥ dis","L1, ll homo","L1, ⊥ homo","L2, ll homo","L2, ⊥ homo"], "range": ["#800000","#2036b4","#e47c7c","#4f97e0","#800000","#2036b4","#e47c7c","#4f97e0"]}, "legend": null}}},
{"data": {"name": "a_dis"}, "mark": {"type": "line", "strokeWidth": 1.8, "clip": true},
 "encoding": {
  "x": {"field": "w", "type": "quantitative", "scale": {"domain": [14800, 19500], "nice": false, "zero": false}, "axis": {"orient": "bottom", "title": "ω (cm⁻¹)", "values": [15000,16000,17000,18000,19000], "labelExpr": "format(datum.value/10000, '.1f')"}},
  "y": {"field": "v", "type": "quantitative", "scale": {"domain": [0, 3], "nice": false, "zero": false}, "axis": {"orient": "left", "title": "Abs(ω), normalized", "values": [0,0.5,1,1.5,2,2.5,3], "format": "~g"}},
  "color": {"field": "s", "type": "nominal", "scale": {"domain": ["L1, ll dis","L1, ⊥ dis","L2, ll dis","L2, ⊥ dis","L1, ll homo","L1, ⊥ homo","L2, ll homo","L2, ⊥ homo"], "range": ["#800000","#2036b4","#e47c7c","#4f97e0","#800000","#2036b4","#e47c7c","#4f97e0"]}, "legend": null},
  "strokeDash": {"field": "s", "type": "nominal", "scale": {"domain": ["L1, ll dis","L1, ⊥ dis","L2, ll dis","L2, ⊥ dis"], "range": [[1,0],[1,0],[5,3],[5,3]]}, "legend": null}}},
{"data": {"name": "a_homo"}, "transform": [{"filter": "false"}], "mark": {"type": "point"},
 "encoding": {
  "x": {"field": "w", "type": "quantitative", "axis": null},
  "y": {"field": "v", "type": "quantitative", "axis": null},
  "fill": {"field": "s", "type": "nominal", "scale": {"domain": ["L1, ll homo","L1, ⊥ homo","L1, ll dis","L1, ⊥ dis","L2, ll homo","L2, ⊥ homo","L2, ll dis","L2, ⊥ dis"], "range": ["#800000","#2036b4","#800000","#2036b4","#e47c7c","#4f97e0","#e47c7c","#4f97e0"]}, "legend": {"title": null, "orient": "none", "legendX": 266, "legendY": 8}},
  "stroke": {"field": "s", "type": "nominal", "scale": {"domain": ["L1, ll homo","L1, ⊥ homo","L1, ll dis","L1, ⊥ dis","L2, ll homo","L2, ⊥ homo","L2, ll dis","L2, ⊥ dis"], "range": ["#800000","#2036b4","#800000","#2036b4","#e47c7c","#4f97e0","#e47c7c","#4f97e0"]}, "legend": {"title": null, "orient": "none", "legendX": 266, "legendY": 8}},
  "shape": {"field": "s", "type": "nominal", "scale": {"domain": ["L1, ll homo","L1, ⊥ homo","L1, ll dis","L1, ⊥ dis","L2, ll homo","L2, ⊥ homo","L2, ll dis","L2, ⊥ dis"], "range": ["M-1.35,-0.78H1.35V0.78H-1.35Z","M-1.35,-0.78H1.35V0.78H-1.35Z","M-1.45,0H1.45","M-1.45,0H1.45","M-1.35,-0.78H1.35V0.78H-1.35Z","M-1.35,-0.78H1.35V0.78H-1.35Z","M-1.45,0H-1.0M-0.65,0H-0.2M0.15,0H0.6M0.95,0H1.4","M-1.45,0H-1.0M-0.65,0H-0.2M0.15,0H0.6M0.95,0H1.4"]}, "legend": {"title": null, "orient": "none", "legendX": 266, "legendY": 8}}}},
{"data": {"values": [{}]}, "mark": {"type": "text", "text": "(a)", "align": "left", "baseline": "alphabetic", "fontSize": 27, "fontWeight": "bold", "color": "black"},
 "encoding": {"x": {"datum": 14394, "type": "quantitative", "axis": null}, "y": {"datum": 3.31, "type": "quantitative", "axis": null}}},
{"data": {"values": [{}]}, "mark": {"type": "text", "text": "Length dependence", "align": "center", "baseline": "alphabetic", "fontSize": 24, "fontWeight": "bold", "color": "black"},
 "encoding": {"x": {"datum": 17150, "type": "quantitative", "axis": null}, "y": {"datum": 3.097, "type": "quantitative", "axis": null}}},
{"data": {"values": [{}]}, "mark": {"type": "text", "text": "×10⁻³", "align": "left", "baseline": "alphabetic", "fontSize": 20, "color": "#262626"},
 "encoding": {"x": {"datum": 14834, "type": "quantitative", "axis": null}, "y": {"datum": 3.068, "type": "quantitative", "axis": null}}},
{"data": {"values": [{}]}, "mark": {"type": "text", "text": "×10⁴", "align": "right", "baseline": "alphabetic", "fontSize": 21, "color": "#262626"},
 "encoding": {"x": {"datum": 19500, "type": "quantitative", "axis": null}, "y": {"datum": -0.534, "type": "quantitative", "axis": null}}},
{"data": {"values": [{}]}, "mark": {"type": "text", "text": "σ\u2002=\u2002180 cm⁻¹", "align": "center", "baseline": "middle", "angle": 270, "font": "Liberation Serif", "fontSize": 48, "color": "#10108a"},
 "encoding": {"x": {"datum": 13594, "type": "quantitative", "axis": null}, "y": {"datum": 1.573, "type": "quantitative", "axis": null}}}
]
},
{
"width": 417, "height": 309,
"layer": [
{"data": {"name": "c_homo"}, "mark": {"type": "bar", "width": 3, "orient": "vertical"},
 "encoding": {
  "x": {"field": "w", "type": "quantitative", "scale": {"domain": [14800, 19500], "nice": false, "zero": false}, "axis": {"orient": "top", "labels": false, "title": null, "values": [15000,16000,17000,18000,19000]}},
  "y": {"field": "v", "type": "quantitative", "stack": null, "scale": {"domain": [0, 3], "nice": false, "zero": false}, "axis": {"orient": "right", "labels": false, "title": null, "values": [0,0.5,1,1.5,2,2.5,3]}},
  "color": {"field": "s", "type": "nominal", "scale": {"domain": ["R1, ll dis","R1, ⊥ dis","R2, ll dis","R2, ⊥ dis","R1, ll homo","R1, ⊥ homo","R2, ll homo","R2, ⊥ homo"], "range": ["#800000","#2036b4","#e47c7c","#4f97e0","#800000","#2036b4","#e47c7c","#4f97e0"]}, "legend": null}}},
{"data": {"name": "c_dis"}, "mark": {"type": "line", "strokeWidth": 1.8, "clip": true},
 "encoding": {
  "x": {"field": "w", "type": "quantitative", "scale": {"domain": [14800, 19500], "nice": false, "zero": false}, "axis": {"orient": "bottom", "title": "ω (cm⁻¹)", "values": [15000,16000,17000,18000,19000], "labelExpr": "format(datum.value/10000, '.1f')"}},
  "y": {"field": "v", "type": "quantitative", "scale": {"domain": [0, 3], "nice": false, "zero": false}, "axis": {"orient": "left", "title": "Abs(ω), normalized", "values": [0,0.5,1,1.5,2,2.5,3], "format": "~g"}},
  "color": {"field": "s", "type": "nominal", "scale": {"domain": ["R1, ll dis","R1, ⊥ dis","R2, ll dis","R2, ⊥ dis","R1, ll homo","R1, ⊥ homo","R2, ll homo","R2, ⊥ homo"], "range": ["#800000","#2036b4","#e47c7c","#4f97e0","#800000","#2036b4","#e47c7c","#4f97e0"]}, "legend": null},
  "strokeDash": {"field": "s", "type": "nominal", "scale": {"domain": ["R1, ll dis","R1, ⊥ dis","R2, ll dis","R2, ⊥ dis"], "range": [[1,0],[1,0],[5,3],[1,0]]}, "legend": null}}},
{"data": {"name": "c_homo"}, "transform": [{"filter": "false"}], "mark": {"type": "point"},
 "encoding": {
  "x": {"field": "w", "type": "quantitative", "axis": null},
  "y": {"field": "v", "type": "quantitative", "axis": null},
  "fill": {"field": "s", "type": "nominal", "scale": {"domain": ["R1, ll homo","R1, ⊥ homo","R1, ll dis","R1, ⊥ dis","R2, ll homo","R2, ⊥ homo","R2, ll dis","R2, ⊥ dis"], "range": ["#800000","#2036b4","#800000","#2036b4","#e47c7c","#4f97e0","#e47c7c","#4f97e0"]}, "legend": {"title": null, "orient": "none", "legendX": 260, "legendY": 13}},
  "stroke": {"field": "s", "type": "nominal", "scale": {"domain": ["R1, ll homo","R1, ⊥ homo","R1, ll dis","R1, ⊥ dis","R2, ll homo","R2, ⊥ homo","R2, ll dis","R2, ⊥ dis"], "range": ["#800000","#2036b4","#800000","#2036b4","#e47c7c","#4f97e0","#e47c7c","#4f97e0"]}, "legend": {"title": null, "orient": "none", "legendX": 260, "legendY": 13}},
  "shape": {"field": "s", "type": "nominal", "scale": {"domain": ["R1, ll homo","R1, ⊥ homo","R1, ll dis","R1, ⊥ dis","R2, ll homo","R2, ⊥ homo","R2, ll dis","R2, ⊥ dis"], "range": ["M-1.35,-0.78H1.35V0.78H-1.35Z","M-1.35,-0.78H1.35V0.78H-1.35Z","M-1.45,0H1.45","M-1.45,0H1.45","M-1.35,-0.78H1.35V0.78H-1.35Z","M-1.35,-0.78H1.35V0.78H-1.35Z","M-1.45,0H-1.0M-0.65,0H-0.2M0.15,0H0.6M0.95,0H1.4","M-1.45,0H1.45"]}, "legend": {"title": null, "orient": "none", "legendX": 260, "legendY": 13}}}},
{"data": {"values": [{}]}, "mark": {"type": "text", "text": "(c)", "align": "left", "baseline": "alphabetic", "fontSize": 27, "fontWeight": "bold", "color": "black"},
 "encoding": {"x": {"datum": 14180, "type": "quantitative", "axis": null}, "y": {"datum": 3.31, "type": "quantitative", "axis": null}}},
{"data": {"values": [{}]}, "mark": {"type": "text", "text": "Radius dependence", "align": "center", "baseline": "alphabetic", "fontSize": 24, "fontWeight": "bold", "color": "black"},
 "encoding": {"x": {"datum": 17150, "type": "quantitative", "axis": null}, "y": {"datum": 3.097, "type": "quantitative", "axis": null}}},
{"data": {"values": [{}]}, "mark": {"type": "text", "text": "×10⁻³", "align": "left", "baseline": "alphabetic", "fontSize": 20, "color": "#262626"},
 "encoding": {"x": {"datum": 14834, "type": "quantitative", "axis": null}, "y": {"datum": 3.068, "type": "quantitative", "axis": null}}},
{"data": {"values": [{}]}, "mark": {"type": "text", "text": "×10⁴", "align": "right", "baseline": "alphabetic", "fontSize": 21, "color": "#262626"},
 "encoding": {"x": {"datum": 19500, "type": "quantitative", "axis": null}, "y": {"datum": -0.534, "type": "quantitative", "axis": null}}}
]
},
{
"width": 417, "height": 307,
"layer": [
{"data": {"name": "b_homo"}, "mark": {"type": "bar", "width": 3, "orient": "vertical"},
 "encoding": {
  "x": {"field": "w", "type": "quantitative", "scale": {"domain": [14800, 19500], "nice": false, "zero": false}, "axis": {"orient": "top", "labels": false, "title": null, "values": [15000,16000,17000,18000,19000]}},
  "y": {"field": "v", "type": "quantitative", "stack": null, "scale": {"domain": [0, 6], "nice": false, "zero": false}, "axis": {"orient": "right", "labels": false, "title": null, "values": [0,1,2,3,4,5,6]}},
  "color": {"field": "s", "type": "nominal", "scale": {"domain": ["L1, ll dis","L1, ⊥ dis","L2, ll dis","L2, ⊥ dis","L1, ll homo","L1, ⊥ homo","L2, ll homo","L2, ⊥ homo"], "range": ["#800000","#2036b4","#e47c7c","#4f97e0","#800000","#2036b4","#e47c7c","#4f97e0"]}, "legend": null}}},
{"data": {"name": "b_dis"}, "mark": {"type": "line", "strokeWidth": 1.8, "clip": true},
 "encoding": {
  "x": {"field": "w", "type": "quantitative", "scale": {"domain": [14800, 19500], "nice": false, "zero": false}, "axis": {"orient": "bottom", "title": "ω (cm⁻¹)", "values": [15000,16000,17000,18000,19000], "labelExpr": "format(datum.value/10000, '.1f')"}},
  "y": {"field": "v", "type": "quantitative", "scale": {"domain": [0, 6], "nice": false, "zero": false}, "axis": {"orient": "left", "title": "Abs(ω), normalized", "values": [0,1,2,3,4,5,6], "format": "~g"}},
  "color": {"field": "s", "type": "nominal", "scale": {"domain": ["L1, ll dis","L1, ⊥ dis","L2, ll dis","L2, ⊥ dis","L1, ll homo","L1, ⊥ homo","L2, ll homo","L2, ⊥ homo"], "range": ["#800000","#2036b4","#e47c7c","#4f97e0","#800000","#2036b4","#e47c7c","#4f97e0"]}, "legend": null},
  "strokeDash": {"field": "s", "type": "nominal", "scale": {"domain": ["L1, ll dis","L1, ⊥ dis","L2, ll dis","L2, ⊥ dis"], "range": [[1,0],[1,0],[5,3],[5,3]]}, "legend": null}}},
{"data": {"name": "b_homo"}, "transform": [{"filter": "false"}], "mark": {"type": "point"},
 "encoding": {
  "x": {"field": "w", "type": "quantitative", "axis": null},
  "y": {"field": "v", "type": "quantitative", "axis": null},
  "fill": {"field": "s", "type": "nominal", "scale": {"domain": ["L1, ll homo","L1, ⊥ homo","L1, ll dis","L1, ⊥ dis","L2, ll homo","L2, ⊥ homo","L2, ll dis","L2, ⊥ dis"], "range": ["#800000","#2036b4","#800000","#2036b4","#e47c7c","#4f97e0","#e47c7c","#4f97e0"]}, "legend": {"title": null, "orient": "none", "legendX": 295, "legendY": 12}},
  "stroke": {"field": "s", "type": "nominal", "scale": {"domain": ["L1, ll homo","L1, ⊥ homo","L1, ll dis","L1, ⊥ dis","L2, ll homo","L2, ⊥ homo","L2, ll dis","L2, ⊥ dis"], "range": ["#800000","#2036b4","#800000","#2036b4","#e47c7c","#4f97e0","#e47c7c","#4f97e0"]}, "legend": {"title": null, "orient": "none", "legendX": 295, "legendY": 12}},
  "shape": {"field": "s", "type": "nominal", "scale": {"domain": ["L1, ll homo","L1, ⊥ homo","L1, ll dis","L1, ⊥ dis","L2, ll homo","L2, ⊥ homo","L2, ll dis","L2, ⊥ dis"], "range": ["M-1.35,-0.78H1.35V0.78H-1.35Z","M-1.35,-0.78H1.35V0.78H-1.35Z","M-1.45,0H1.45","M-1.45,0H1.45","M-1.35,-0.78H1.35V0.78H-1.35Z","M-1.35,-0.78H1.35V0.78H-1.35Z","M-1.45,0H-1.0M-0.65,0H-0.2M0.15,0H0.6M0.95,0H1.4","M-1.45,0H-1.0M-0.65,0H-0.2M0.15,0H0.6M0.95,0H1.4"]}, "legend": {"title": null, "orient": "none", "legendX": 295, "legendY": 12}}}},
{"data": {"values": [{}]}, "mark": {"type": "text", "text": "(b)", "align": "left", "baseline": "alphabetic", "fontSize": 27, "fontWeight": "bold", "color": "black"},
 "encoding": {"x": {"datum": 14394, "type": "quantitative", "axis": null}, "y": {"datum": 6.72, "type": "quantitative", "axis": null}}},
{"data": {"values": [{}]}, "mark": {"type": "text", "text": "Length dependence", "align": "center", "baseline": "alphabetic", "fontSize": 24, "fontWeight": "bold", "color": "black"},
 "encoding": {"x": {"datum": 17150, "type": "quantitative", "axis": null}, "y": {"datum": 6.215, "type": "quantitative", "axis": null}}},
{"data": {"values": [{}]}, "mark": {"type": "text", "text": "×10⁻⁴", "align": "left", "baseline": "alphabetic", "fontSize": 20, "color": "#262626"},
 "encoding": {"x": {"datum": 14834, "type": "quantitative", "axis": null}, "y": {"datum": 6.08, "type": "quantitative", "axis": null}}},
{"data": {"values": [{}]}, "mark": {"type": "text", "text": "×10⁴", "align": "right", "baseline": "alphabetic", "fontSize": 21, "color": "#262626"},
 "encoding": {"x": {"datum": 19500, "type": "quantitative", "axis": null}, "y": {"datum": -1.135, "type": "quantitative", "axis": null}}},
{"data": {"values": [{}]}, "mark": {"type": "text", "text": "σ\u2002=\u2002800 cm⁻¹", "align": "center", "baseline": "middle", "angle": 270, "font": "Liberation Serif", "fontSize": 48, "color": "#10108a"},
 "encoding": {"x": {"datum": 13594, "type": "quantitative", "axis": null}, "y": {"datum": 2.87, "type": "quantitative", "axis": null}}}
]
},
{
"width": 417, "height": 307,
"layer": [
{"data": {"name": "d_homo"}, "mark": {"type": "bar", "width": 3, "orient": "vertical"},
 "encoding": {
  "x": {"field": "w", "type": "quantitative", "scale": {"domain": [14800, 19500], "nice": false, "zero": false}, "axis": {"orient": "top", "labels": false, "title": null, "values": [15000,16000,17000,18000,19000]}},
  "y": {"field": "v", "type": "quantitative", "stack": null, "scale": {"domain": [0, 6], "nice": false, "zero": false}, "axis": {"orient": "right", "labels": false, "title": null, "values": [0,1,2,3,4,5,6]}},
  "color": {"field": "s", "type": "nominal", "scale": {"domain": ["R1, ll dis","R1, ⊥ dis","R2, ll dis","R2, ⊥ dis","R1, ll homo","R1, ⊥ homo","R2, ll homo","R2, ⊥ homo"], "range": ["#800000","#2036b4","#e47c7c","#4f97e0","#800000","#2036b4","#e47c7c","#4f97e0"]}, "legend": null}}},
{"data": {"name": "d_dis"}, "mark": {"type": "line", "strokeWidth": 1.8, "clip": true},
 "encoding": {
  "x": {"field": "w", "type": "quantitative", "scale": {"domain": [14800, 19500], "nice": false, "zero": false}, "axis": {"orient": "bottom", "title": "ω (cm⁻¹)", "values": [15000,16000,17000,18000,19000], "labelExpr": "format(datum.value/10000, '.1f')"}},
  "y": {"field": "v", "type": "quantitative", "scale": {"domain": [0, 6], "nice": false, "zero": false}, "axis": {"orient": "left", "title": "Abs(ω), normalized", "values": [0,1,2,3,4,5,6], "format": "~g"}},
  "color": {"field": "s", "type": "nominal", "scale": {"domain": ["R1, ll dis","R1, ⊥ dis","R2, ll dis","R2, ⊥ dis","R1, ll homo","R1, ⊥ homo","R2, ll homo","R2, ⊥ homo"], "range": ["#800000","#2036b4","#e47c7c","#4f97e0","#800000","#2036b4","#e47c7c","#4f97e0"]}, "legend": null},
  "strokeDash": {"field": "s", "type": "nominal", "scale": {"domain": ["R1, ll dis","R1, ⊥ dis","R2, ll dis","R2, ⊥ dis"], "range": [[1,0],[1,0],[5,3],[1,0]]}, "legend": null}}},
{"data": {"name": "d_homo"}, "transform": [{"filter": "false"}], "mark": {"type": "point"},
 "encoding": {
  "x": {"field": "w", "type": "quantitative", "axis": null},
  "y": {"field": "v", "type": "quantitative", "axis": null},
  "fill": {"field": "s", "type": "nominal", "scale": {"domain": ["R1, ll homo","R1, ⊥ homo","R1, ll dis","R1, ⊥ dis","R2, ll homo","R2, ⊥ homo","R2, ll dis","R2, ⊥ dis"], "range": ["#800000","#2036b4","#800000","#2036b4","#e47c7c","#4f97e0","#e47c7c","#4f97e0"]}, "legend": {"title": null, "orient": "none", "legendX": 284, "legendY": 12}},
  "stroke": {"field": "s", "type": "nominal", "scale": {"domain": ["R1, ll homo","R1, ⊥ homo","R1, ll dis","R1, ⊥ dis","R2, ll homo","R2, ⊥ homo","R2, ll dis","R2, ⊥ dis"], "range": ["#800000","#2036b4","#800000","#2036b4","#e47c7c","#4f97e0","#e47c7c","#4f97e0"]}, "legend": {"title": null, "orient": "none", "legendX": 284, "legendY": 12}},
  "shape": {"field": "s", "type": "nominal", "scale": {"domain": ["R1, ll homo","R1, ⊥ homo","R1, ll dis","R1, ⊥ dis","R2, ll homo","R2, ⊥ homo","R2, ll dis","R2, ⊥ dis"], "range": ["M-1.35,-0.78H1.35V0.78H-1.35Z","M-1.35,-0.78H1.35V0.78H-1.35Z","M-1.45,0H1.45","M-1.45,0H1.45","M-1.35,-0.78H1.35V0.78H-1.35Z","M-1.35,-0.78H1.35V0.78H-1.35Z","M-1.45,0H-1.0M-0.65,0H-0.2M0.15,0H0.6M0.95,0H1.4","M-1.45,0H1.45"]}, "legend": {"title": null, "orient": "none", "legendX": 284, "legendY": 12}}}},
{"data": {"values": [{}]}, "mark": {"type": "text", "text": "(d)", "align": "left", "baseline": "alphabetic", "fontSize": 27, "fontWeight": "bold", "color": "black"},
 "encoding": {"x": {"datum": 14180, "type": "quantitative", "axis": null}, "y": {"datum": 6.72, "type": "quantitative", "axis": null}}},
{"data": {"values": [{}]}, "mark": {"type": "text", "text": "Radius dependence", "align": "center", "baseline": "alphabetic", "fontSize": 24, "fontWeight": "bold", "color": "black"},
 "encoding": {"x": {"datum": 17150, "type": "quantitative", "axis": null}, "y": {"datum": 6.215, "type": "quantitative", "axis": null}}},
{"data": {"values": [{}]}, "mark": {"type": "text", "text": "×10⁻⁴", "align": "left", "baseline": "alphabetic", "fontSize": 20, "color": "#262626"},
 "encoding": {"x": {"datum": 14834, "type": "quantitative", "axis": null}, "y": {"datum": 6.08, "type": "quantitative", "axis": null}}},
{"data": {"values": [{}]}, "mark": {"type": "text", "text": "×10⁴", "align": "right", "baseline": "alphabetic", "fontSize": 21, "color": "#262626"},
 "encoding": {"x": {"datum": 19500, "type": "quantitative", "axis": null}, "y": {"datum": -1.135, "type": "quantitative", "axis": null}}}
]
}
],
"config": {
 "font": "Liberation Sans",
 "background": "white",
 "view": {"stroke": "#a0a0a0", "strokeWidth": 1},
 "text": {"font": "Liberation Sans"},
 "axis": {"grid": false, "domain": false, "ticks": true, "tickColor": "#a0a0a0", "tickSize": -5, "tickWidth": 1, "labelFont": "Liberation Sans", "labelFontSize": 21, "labelColor": "#262626", "labelFlush": false, "labelOverlap": false, "titleFont": "Liberation Sans", "titleFontSize": 22, "titleFontWeight": "normal", "titleColor": "#262626"},
 "axisBottom": {"labelPadding": 13, "titlePadding": 6},
 "axisLeft": {"labelPadding": 12, "titlePadding": 7},
 "legend": {"padding": 2, "rowPadding": -1, "symbolSize": 324, "symbolStrokeWidth": 2, "symbolOffset": 7, "labelOffset": 14, "labelFontSize": 19, "labelFont": "Liberation Sans", "labelColor": "black", "strokeColor": "#9a9a9a", "fillColor": "white", "labelLimit": 300, "symbolOpacity": 1}
}
}
